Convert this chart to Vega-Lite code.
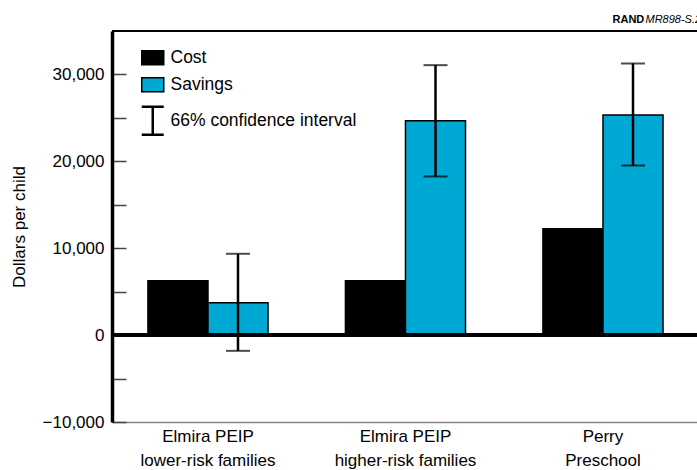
{
  "$schema": "https://vega.github.io/schema/vega-lite/v6.json",
  "width": 585,
  "height": 391,
  "autosize": {"type": "none"},
  "padding": {"left": 112, "top": 31, "right": 0, "bottom": 48},
  "background": "white",
  "config": {
    "view": {"stroke": null},
    "font": "Liberation Sans",
    "axis": {"labelFont": "Liberation Sans", "titleFont": "Liberation Sans"},
    "legend": {"labelFont": "Liberation Sans"}
  },
  "data": {
    "values": [
      {"program": "Elmira PEIP\nlower-risk families", "type": "Cost", "value": 6250},
      {"program": "Elmira PEIP\nlower-risk families", "type": "Savings", "value": 3720, "lo": -1810, "hi": 9360},
      {"program": "Elmira PEIP\nhigher-risk families", "type": "Cost", "value": 6250},
      {"program": "Elmira PEIP\nhigher-risk families", "type": "Savings", "value": 24660, "lo": 18260, "hi": 31070},
      {"program": "Perry\nPreschool", "type": "Cost", "value": 12230},
      {"program": "Perry\nPreschool", "type": "Savings", "value": 25320, "lo": 19530, "hi": 31270}
    ]
  },
  "resolve": {"axis": {"x": "independent", "y": "independent"}},
  "layer": [
    {
      "mark": {"type": "bar", "stroke": "black", "strokeWidth": 1.5},
      "encoding": {
        "x": {
          "field": "program", "type": "nominal", "sort": null,
          "scale": {"paddingInner": 0.392, "paddingOuter": 0.177, "align": 0.514},
          "axis": {
            "orient": "bottom", "title": null, "domainColor": "#888", "domainWidth": 1.5,
            "ticks": false, "labelAngle": 0, "labelFontSize": 17, "labelColor": "black",
            "labelPadding": 6, "labelLineHeight": 24, "labelBaseline": "top",
            "labelExpr": "split(datum.value, '\\n')"
          }
        },
        "xOffset": {"field": "type", "type": "nominal", "scale": {"paddingInner": 0, "paddingOuter": 0}},
        "y": {
          "field": "value", "type": "quantitative",
          "scale": {"domain": [-10000, 35000], "nice": false, "zero": false},
          "axis": {
            "orient": "left", "title": "Dollars per child",
            "values": [-10000, -5000, 0, 5000, 10000, 15000, 20000, 25000, 30000],
            "labelExpr": "datum.value % 10000 == 0 ? format(datum.value, ',') : ''",
            "domainColor": "black", "domainWidth": 3.5,
            "tickColor": "#444", "tickWidth": 1.5, "tickSize": -14,
            "labelPadding": 22, "labelFontSize": 17, "labelColor": "black", "grid": false,
            "titleFontSize": 17, "titleFontWeight": "normal", "titleColor": "black",
            "titleX": -93, "titleBaseline": "middle"
          }
        },
        "fill": {
          "field": "type", "type": "nominal",
          "scale": {"domain": ["Cost", "Savings", "66% confidence interval"], "range": ["black", "#00A8D4", "transparent"]},
          "legend": {
            "title": null, "orient": "none", "legendX": 32, "legendY": 18, "padding": 0,
            "symbolSize": 484, "symbolStrokeColor": "black", "symbolStrokeWidth": 1.5,
            "labelFontSize": 17.5, "labelColor": "black", "labelOffset": 9, "rowPadding": 6, "labelLimit": 400,
            "encode": {
              "symbols": {
                "update": {
                  "shape": {"signal": "datum.value == '66% confidence interval' ? 'M-1,-1.27H1M0,-1.27V1.27M-1,1.27H1' : 'M-1,-0.64H1V0.64H-1Z'"},
                  "strokeWidth": {"signal": "datum.value == '66% confidence interval' ? 2.5 : 1.5"}
                }
              }
            }
          }
        }
      }
    },
    {
      "mark": {"type": "rule", "color": "black", "strokeWidth": 3.5},
      "encoding": {"y": {"datum": 0, "type": "quantitative", "axis": null}}
    },
    {
      "transform": [{"filter": "datum.lo != null"}],
      "mark": {"type": "rule", "color": "black", "strokeWidth": 2.5},
      "encoding": {
        "x": {
          "field": "program", "type": "nominal", "sort": null,
          "axis": {
            "orient": "top", "title": "RAND", "labels": false, "ticks": false, "domain": false,
            "titleX": 500, "titleY": -12, "titleAlign": "left", "titleBaseline": "middle",
            "titleFontSize": 11, "titleFontWeight": "bold", "titleColor": "black"
          }
        },
        "xOffset": {"field": "type", "type": "nominal"},
        "y": {
          "field": "lo", "type": "quantitative",
          "axis": {
            "orient": "right", "title": "MR898-S.2", "labels": false, "ticks": false, "domain": false, "grid": false,
            "titleAngle": 0, "titleX": -52, "titleY": -12, "titleAlign": "left", "titleBaseline": "middle",
            "titleFontSize": 11, "titleFontStyle": "italic", "titleFontWeight": "normal", "titleColor": "black"
          }
        },
        "y2": {"field": "hi"}
      }
    },
    {
      "transform": [{"filter": "datum.lo != null"}],
      "mark": {"type": "tick", "orient": "horizontal", "size": 24, "thickness": 2, "color": "black"},
      "encoding": {
        "x": {"field": "program", "type": "nominal", "sort": null, "axis": null},
        "xOffset": {"field": "type", "type": "nominal"},
        "y": {"field": "lo", "type": "quantitative", "axis": null}
      }
    },
    {
      "transform": [{"filter": "datum.hi != null"}],
      "mark": {"type": "tick", "orient": "horizontal", "size": 24, "thickness": 2, "color": "black"},
      "encoding": {
        "x": {"field": "program", "type": "nominal", "sort": null, "axis": null},
        "xOffset": {"field": "type", "type": "nominal"},
        "y": {"field": "hi", "type": "quantitative", "axis": null}
      }
    },
    {
      "mark": {"type": "rule", "color": "black", "strokeWidth": 1.2},
      "encoding": {"y": {"datum": 35000, "type": "quantitative", "axis": null}}
    }
  ]
}
